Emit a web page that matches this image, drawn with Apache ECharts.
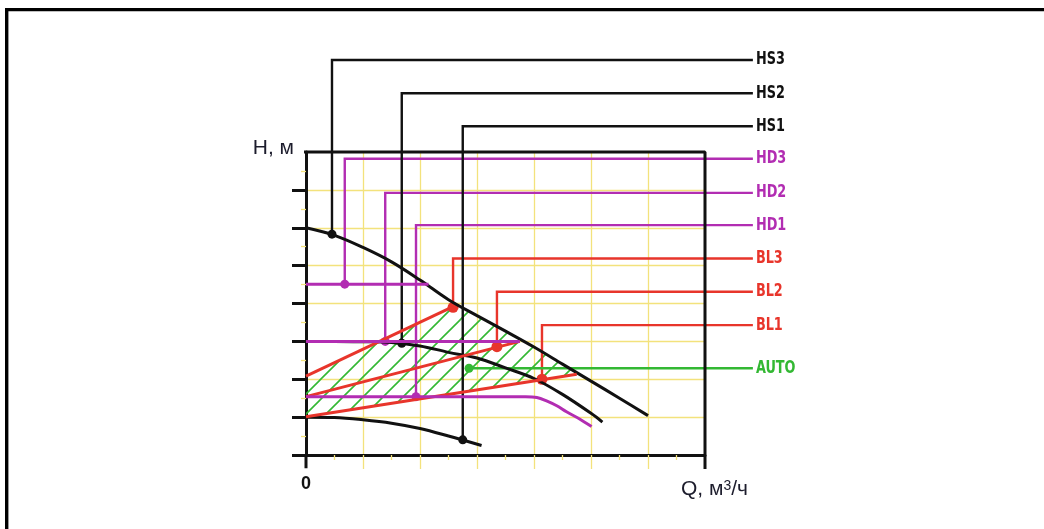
<!DOCTYPE html>
<html><head><meta charset="utf-8">
<script src="https://cdn.jsdelivr.net/npm/echarts@6/dist/echarts.min.js"></script>
<style>html,body{margin:0;padding:0;background:#fff}#c{width:1044px;height:529px}</style>
</head><body><div id="c"></div>
<script>
// ---- data ----
const xTickValues = [1, 2, 3, 4, 5, 6];
const yTickValues = [0, 1, 2, 3, 4, 5, 6, 7];
const xLabelValues = [0];
const hs3Curve = [[0,6.0],[0.5,5.8],[1,5.48],[1.5,5.1],[2,4.62],[2.5,4.1],[3,3.68],[3.5,3.27],[4,2.85],[4.5,2.4],[5,1.95],[5.5,1.5],[6,1.04]];
const hs2Curve = [[0,3.0],[0.5,3.0],[1,2.99],[1.5,2.97],[2,2.88],[2.5,2.71],[3,2.56],[3.5,2.3],[4,2.02],[4.5,1.6],[5,1.1],[5.2,0.87]];
const hs1Curve = [[0,1.0],[0.5,0.99],[1,0.93],[1.5,0.84],[2,0.7],[2.5,0.5],[3.08,0.25]];
const hd3Line = [[0,4.51],[2.15,4.51]];
const hd2Line = [[0,3.0],[3.75,3.0]];
const hd1Curve = [[0,1.54],[3.85,1.54],[4.05,1.52],[4.22,1.43],[4.4,1.3],[4.57,1.14],[4.8,0.95],[5.01,0.75]];
const bl3Line = [[0,2.08],[2.58,3.92]];
const bl2Line = [[0,1.54],[3.75,3.0]];
const bl1Line = [[0,1.01],[4.75,2.13]];
const labelNames = ['HS3','HS2','HS1','HD3','HD2','HD1','BL3','BL2','BL1','AUTO'];
const markerX = [0.456,1.68,2.75,0.68,1.39,1.93,2.58,3.35,4.14,2.86];
const markerY = [5.83,2.95,0.40,4.51,3.0,1.54,3.9,2.86,2.0,2.29];
const labelY = [10.43,9.55,8.68,7.82,6.92,6.07,5.19,4.31,3.43,2.29];
const labelX = 7.84;

// ---- styles ----
const BLACK = '#111111', MAG = '#b22db2', RED = '#e8352b', GREEN = '#33b833', YEL = '#f3e27c';
const groupColor = i => i < 3 ? BLACK : i < 6 ? MAG : i < 9 ? RED : GREEN;
const dotR = i => (i >= 6 && i < 9) ? 5.5 : 4.5;
const NARROW = '"Liberation Sans Narrow","DejaVu Sans Condensed","Arial Narrow",sans-serif';
const SANS = '"Liberation Sans", Arial, sans-serif';

function hatchCanvas() {
  const c = document.createElement('canvas'); c.width = 20; c.height = 20;
  const g = c.getContext('2d'); g.strokeStyle = GREEN; g.lineWidth = 1.6;
  g.beginPath();
  g.moveTo(-2, 22); g.lineTo(22, -2);
  g.moveTo(-2, 2); g.lineTo(2, -2);
  g.moveTo(18, 22); g.lineTo(22, 18);
  g.stroke();
  return c;
}
const hatchImg = hatchCanvas();
const hatchPoly = [bl1Line[0], bl1Line[1]]
  .concat(hs3Curve.filter(p => p[0] > bl3Line[1][0] && p[0] < bl1Line[1][0]).reverse())
  .concat([bl3Line[1], bl3Line[0]]);

function curve(data, color, width, smooth) {
  return { type: 'line', data: data, showSymbol: false, symbol: 'none', smooth: smooth ? 0.35 : false,
    lineStyle: { color: color, width: width }, silent: true };
}

// leader lines: magenta/red/green first, black on top
const leaderOrder = [3,4,5,6,7,8,9,0,1,2];
const leaderData = leaderOrder.map(i => [markerX[i], markerY[i], labelY[i], i]);

const series = [
  { type: 'custom', coordinateSystem: 'cartesian2d', data: [[0, 0]], silent: true, clip: false,
    renderItem: (params, api) => ({ type: 'polygon',
      shape: { points: hatchPoly.map(p => api.coord(p)) },
      style: { fill: { image: hatchImg, repeat: 'repeat' }, stroke: null } }) },
  // frame decorations
  Object.assign(curve([[-0.07, 8], [7, 8], [7, -0.37]], BLACK, 3, false), { clip: false }),
  Object.assign(curve([[0, 0], [0, -0.35]], BLACK, 3, false), { clip: false }),
  curve(hs1Curve, BLACK, 3, true),
  curve(hs2Curve, BLACK, 3, true),
  curve(hs3Curve, BLACK, 3, true),
  curve(bl3Line, RED, 3, false),
  curve(bl2Line, RED, 3, false),
  curve(bl1Line, RED, 3, false),
  curve(hd1Curve, MAG, 3, true),
  curve(hd2Line, MAG, 3, false),
  curve(hd3Line, MAG, 3, false),
  { type: 'custom', coordinateSystem: 'cartesian2d', data: leaderData, silent: true, clip: false,
    encode: { x: 0, y: 1 },
    renderItem: (params, api) => {
      const mx = api.value(0), my = api.value(1), ly = api.value(2), i = api.value(3);
      const c = groupColor(i);
      const pts = i === 9
        ? [[mx, my], [labelX, ly]]
        : [[mx, my], [mx, ly], [labelX, ly]];
      const px = pts.map(p => api.coord(p));
      const end = px[px.length - 1];
      return { type: 'group', children: [
        { type: 'polyline', shape: { points: px }, style: { stroke: c, lineWidth: 2.4, fill: null } },
        { type: 'circle', shape: { cx: px[0][0], cy: px[0][1], r: dotR(i) }, style: { fill: c } },
        { type: 'text', x: end[0] + 3, y: end[1], scaleX: 0.84, scaleY: 1,
          style: { text: labelNames[i], x: 0, y: 0, fill: c,
            fontSize: 17, fontWeight: 'bold', fontFamily: NARROW, align: 'left', verticalAlign: 'middle' } }
      ] };
    } }
];

const chart = echarts.init(document.getElementById('c'), null, { renderer: 'canvas' });
chart.setOption({
  animation: false,
  backgroundColor: '#ffffff',
  grid: { left: 306, right: 339, top: 152, bottom: 74, containLabel: false, outerBoundsMode: 'none' },
  graphic: [{ type: 'polyline', silent: true, shape: { points: [[6.7, 529], [6.7, 9.6], [1044, 9.6]] },
    style: { stroke: '#000', lineWidth: 3.4, fill: null } }],
  xAxis: {
    type: 'value', min: 0, max: 7, interval: 1,
    axisLine: { show: true, onZero: false, lineStyle: { color: BLACK, width: 3 } },
    axisTick: { show: true, customValues: xTickValues, length: 14, lineStyle: { color: YEL, width: 1.3 } },
    minorTick: { show: true, splitNumber: 2, length: 5, lineStyle: { color: YEL, width: 1.3 } },
    splitLine: { show: true, lineStyle: { color: YEL, width: 1.3 } },
    axisLabel: { customValues: xLabelValues, formatter: v => v === 0 ? '0' : '', margin: 20,
      fontSize: 18, fontWeight: 'bold', color: BLACK, fontFamily: SANS },
    name: '{a|Q, м}{b|3}{a|/ч}', nameLocation: 'end', nameGap: 43,
    nameTextStyle: { align: 'right', verticalAlign: 'top', padding: [24, 0, 0, 0],
      rich: { a: { fontSize: 21, color: '#1c1c2c', fontFamily: SANS },
              b: { fontSize: 14, color: '#1c1c2c', verticalAlign: 'top', fontFamily: SANS } } }
  },
  yAxis: {
    type: 'value', min: 0, max: 8, interval: 1,
    axisLine: { show: true, onZero: false, lineStyle: { color: BLACK, width: 3 } },
    axisTick: { show: true, customValues: yTickValues, length: 14, lineStyle: { color: BLACK, width: 3 } },
    minorTick: { show: true, splitNumber: 2, length: 5, lineStyle: { color: YEL, width: 1.3 } },
    splitLine: { show: true, lineStyle: { color: YEL, width: 1.3 } },
    axisLabel: { show: false },
    name: 'H, м', nameLocation: 'end', nameGap: 4,
    nameTextStyle: { align: 'right', verticalAlign: 'middle', padding: [0, 12, 0, 0], fontSize: 21,
      color: '#1c1c2c', fontFamily: SANS }
  },
  series: series
});
</script></body></html>
